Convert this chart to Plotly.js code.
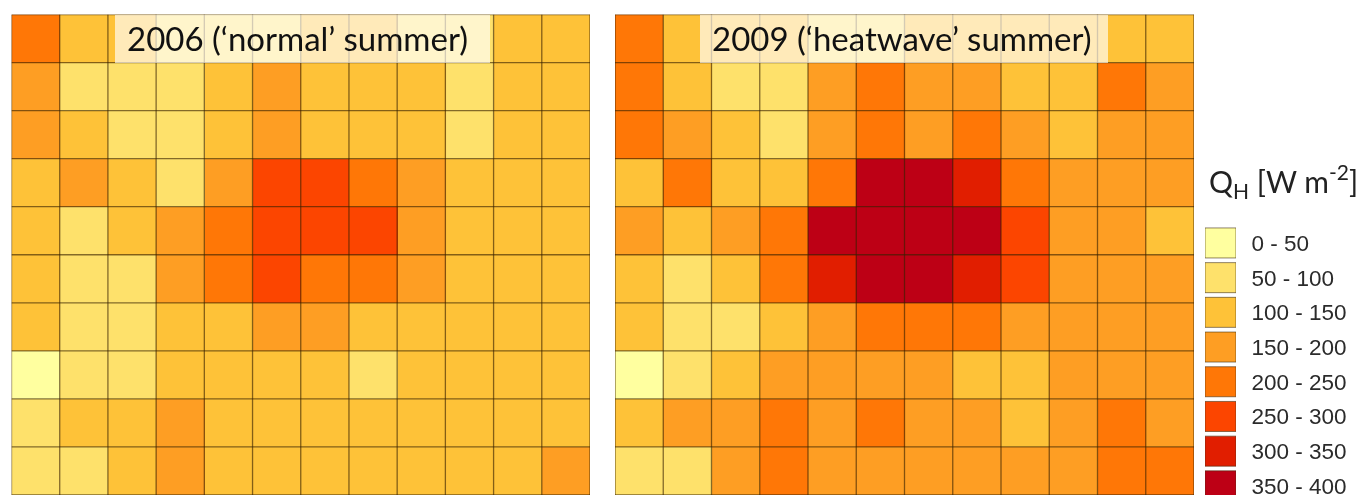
<!DOCTYPE html>
<html><head><meta charset="utf-8">
<script src="https://cdn.plot.ly/plotly-3.0.1.min.js"></script>
<style>html,body{margin:0;padding:0;background:#fff;overflow:hidden}#c{width:1362px;height:495px;filter:blur(0.6px)}</style>
</head><body><div id="c"></div>
<script>
const binLabels = ['0 - 50','50 - 100','100 - 150','150 - 200','200 - 250','250 - 300','300 - 350','350 - 400'];
const binColors = ['#FFFF9F','#FEE16B','#FEC238','#FE9E23','#FF7706','#FC4500','#E11E00','#BD0015'];
const rowIdx = [0,1,2,3,4,5,6,7,8,9];
const colIdx = [0,1,2,3,4,5,6,7,8,9,10,11];
const bins2006 = [
 [4,2,2,1,1,1,2,2,1,1,2,2],
 [3,1,1,1,2,3,2,2,2,1,2,2],
 [3,2,1,1,2,3,2,2,2,1,2,2],
 [2,3,2,1,3,5,5,4,3,2,2,2],
 [2,1,2,3,4,5,5,5,3,2,2,2],
 [2,1,1,3,4,5,4,4,3,2,2,2],
 [2,1,1,2,2,3,3,2,2,2,2,2],
 [0,1,1,2,2,2,2,1,2,2,2,2],
 [1,2,2,3,2,2,2,2,2,2,2,2],
 [1,1,2,3,2,2,2,2,2,2,2,3]];
const bins2009 = [
 [4,2,2,2,1,1,2,2,2,2,2,2],
 [4,2,1,1,3,4,3,3,2,2,4,3],
 [4,3,2,1,3,4,3,4,3,2,3,3],
 [2,4,2,2,4,7,7,6,4,3,3,3],
 [3,2,3,4,7,7,7,7,5,3,3,2],
 [2,1,2,4,6,7,7,6,5,3,3,3],
 [2,1,1,2,3,4,4,4,3,3,3,3],
 [0,1,2,3,3,3,3,2,2,3,3,3],
 [2,3,3,4,3,4,3,3,2,3,4,3],
 [1,1,3,4,3,3,3,3,3,3,4,4]];
const title2006 = "2006 (\u2018normal\u2019 summer)";
const title2009 = "2009 (\u2018heatwave\u2019 summer)";
const legendTitle = 'Q<sub>H</sub> [W m<sup>-2</sup>]';

const W = 1362, H = 495;
const n = binColors.length;
const cs = [];
binColors.forEach((c,i)=>{cs.push([i/n,c]);cs.push([(i+1)/n,c]);});

const gridX=[],gridY=[];
for(let c=0;c<=colIdx.length;c++){gridX.push(c-0.5,c-0.5,null);gridY.push(-0.5,rowIdx.length-0.5,null);}
for(let r=0;r<=rowIdx.length;r++){gridX.push(-0.5,colIdx.length-0.5,null);gridY.push(r-0.5,r-0.5,null);}

const toZ = m=>m.map(r=>r.map(v=>v+0.5));
function panel(z,xa,ya){
  return [
   {type:'heatmap',z:toZ(z),x:colIdx,y:rowIdx,xaxis:xa,yaxis:ya,colorscale:cs,zmin:0,zmax:n,zauto:false,showscale:false,hoverinfo:'skip'},
   {type:'scatter',mode:'lines',x:gridX,y:gridY,xaxis:xa,yaxis:ya,line:{color:'rgba(55,32,0,0.62)',width:1.3},hoverinfo:'skip',showlegend:false}
  ];
}
const traces = [
  ...panel(bins2006,'x','y'),
  ...panel(bins2009,'x2','y2'),
  {type:'bar',orientation:'h',x:binLabels.map(()=>1),y:binLabels,xaxis:'x3',yaxis:'y3',
   width:0.865,marker:{color:binColors,line:{color:'rgba(70,50,20,0.6)',width:1}},hoverinfo:'skip',showlegend:false}
];
const hidden = {showgrid:false,zeroline:false,showticklabels:false,ticks:'',showline:false,fixedrange:true};
const dom = (a,b)=>[a/W,b/W], vdom=(t,b)=>[1-b/H,1-t/H];
const rowH = 34.7, legTop = 225.6;
const box = (x0,x1)=>({type:'rect',xref:'paper',yref:'paper',x0:x0/W,x1:x1/W,y0:1-63/H,y1:1-15/H,
  fillcolor:'rgba(255,255,255,0.65)',line:{width:0},layer:'above'});
const label = (cx,text)=>({xref:'paper',yref:'paper',x:cx/W,xanchor:'center',y:1-38/H,yanchor:'middle',
  text:text,showarrow:false,font:{family:'Lato',size:33,color:'#111'}});
const layout = {
  width:W,height:H,margin:{l:0,r:0,t:0,b:0},paper_bgcolor:'#fff',plot_bgcolor:'rgba(0,0,0,0)',showlegend:false,
  xaxis:{...hidden,domain:dom(11.5,590),range:[-0.5,11.5]},
  yaxis:{...hidden,domain:vdom(14.5,495),range:[9.5,-0.5]},
  xaxis2:{...hidden,domain:dom(615,1194),range:[-0.5,11.5]},
  yaxis2:{...hidden,domain:vdom(14.5,495),range:[9.5,-0.5]},
  xaxis3:{...hidden,domain:dom(1205,1236),range:[0,1]},
  yaxis3:{type:'category',categoryorder:'array',categoryarray:binLabels,domain:vdom(legTop,H),
    range:[-0.5+(H-legTop)/rowH,-0.5],
    side:'right',anchor:'x3',showgrid:false,zeroline:false,showline:false,ticks:'outside',ticklen:10,tickcolor:'rgba(0,0,0,0)',
    tickfont:{family:'Liberation Sans',size:22.5,color:'#2b2b2b'},fixedrange:true},
  shapes:[box(115,490),box(700,1108)],
  annotations:[
    label(297.5,title2006),
    label(902,title2009),
    {xref:'paper',yref:'paper',x:1207/W,xanchor:'left',y:1-181/H,yanchor:'middle',
     text:legendTitle,showarrow:false,font:{family:'Lato',size:30,color:'#222'}}
  ]
};
Plotly.newPlot('c',traces,layout,{displayModeBar:false,staticPlot:true});
</script></body></html>
